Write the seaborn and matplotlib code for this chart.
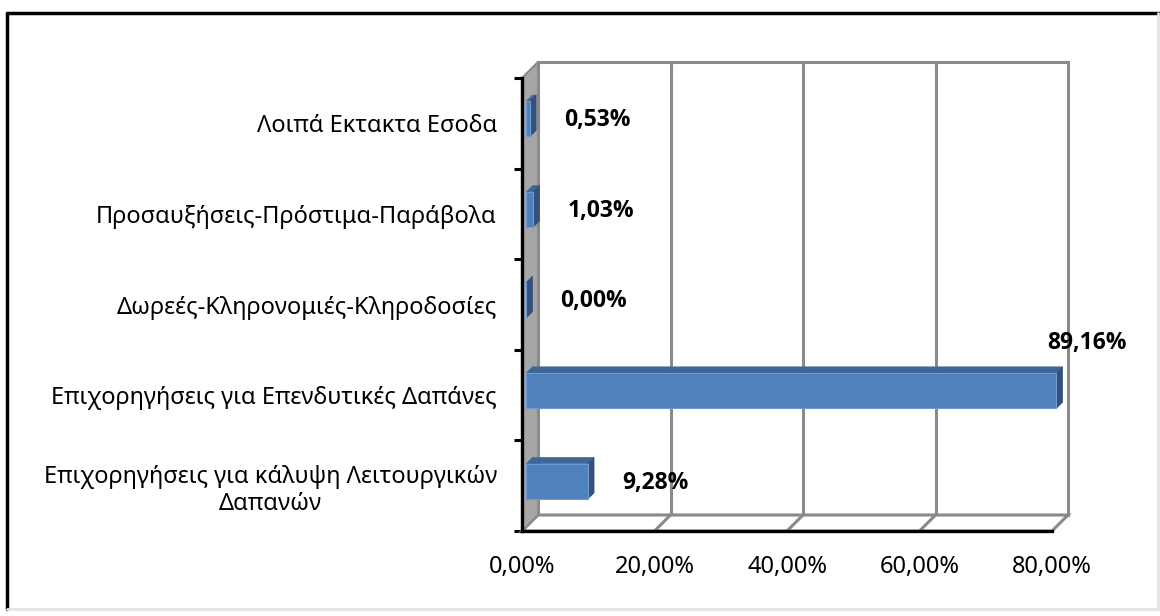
import numpy as np
import pandas as pd
import matplotlib
matplotlib.use("Agg")
import matplotlib.pyplot as plt
import seaborn as sns
from matplotlib.patches import Polygon
from matplotlib.lines import Line2D
from matplotlib.transforms import IdentityTransform, offset_copy

# Data (top to bottom as shown)
categories = [
    "Λοιπά Εκτακτα Εσοδα",
    "Προσαυξήσεις-Πρόστιμα-Παράβολα",
    "Δωρεές-Κληρονομιές-Κληροδοσίες",
    "Επιχορηγήσεις για Επενδυτικές Δαπάνες",
    "Επιχορηγήσεις για κάλυψη Λειτουργικών\nΔαπανών",
]
shares = [0.0053, 0.0103, 0.0000, 0.8916, 0.0928]
share_labels = ["0,53%", "1,03%", "0,00%", "89,16%", "9,28%"]
x_ticks = [0.0, 0.2, 0.4, 0.6, 0.8]
x_tick_labels = ["0,00%", "20,00%", "40,00%", "60,00%", "80,00%"]
x_max = 0.8

# Colours
bar_front = "#4F81BD"
bar_top = "#3E6797"
bar_side = "#2F5281"
wall_gray = "#A6A6A6"
grid_gray = "#8A8A8A"

sns.set_theme(style="white")
plt.rcParams['font.family'] = ['Noto Sans', 'DejaVu Sans']

W, H, DPI = 1160, 616, 100
fig = plt.figure(figsize=(W / DPI, H / DPI), dpi=DPI)
fig.patch.set_facecolor("white")

# front plane of the 3D box (pixel positions from the top-left)
left_px, right_px, top_px, bottom_px = 522, 1052, 78, 531
ax = fig.add_axes([left_px / W, (H - bottom_px) / H,
                   (right_px - left_px) / W, (bottom_px - top_px) / H])
ax.set_facecolor("none")

n = len(categories)
df = pd.DataFrame({"category": categories,
                   "share": np.minimum(shares, x_max)})

sns.barplot(data=df, x="share", y="category", orient="h", color=bar_front,
            saturation=1, width=0.39, ax=ax, zorder=6)

ax.set_xlim(0, x_max)
ax.set_ylim(n - 0.5, -0.5)

depth = np.array([16.0, 16.0])      # depth direction in display pixels
bar_f = 0.28 * depth                # bar front face
bar_b = 0.66 * depth                # bar back face


def to_px(x, y):
    return ax.transData.transform((x, y))


def poly(pts, **kw):
    p = Polygon(np.array(pts), closed=True, transform=IdentityTransform(),
                clip_on=False, **kw)
    ax.add_artist(p)
    return p


def seg(p0, p1, **kw):
    ax.add_artist(Line2D([p0[0], p1[0]], [p0[1], p1[1]],
                         transform=IdentityTransform(), clip_on=False, **kw))


fl_top = to_px(0, -0.5)
fl_bot = to_px(0, n - 0.5)
fr_top = to_px(x_max, -0.5)
fr_bot = to_px(x_max, n - 0.5)

# back wall
poly([fl_bot + depth, fr_bot + depth, fr_top + depth, fl_top + depth],
     facecolor="white", edgecolor=grid_gray, lw=2.2, zorder=0.5)
for t in x_ticks[1:-1]:
    seg(to_px(t, n - 0.5) + depth, to_px(t, -0.5) + depth,
        color=grid_gray, lw=2.2, zorder=0.6)

# floor
poly([fl_bot, fl_bot + depth, fr_bot + depth, fr_bot],
     facecolor="white", edgecolor=grid_gray, lw=2.2, zorder=0.7)
for t in x_ticks[1:-1]:
    seg(to_px(t, n - 0.5), to_px(t, n - 0.5) + depth,
        color=grid_gray, lw=2.2, zorder=0.8)

# side wall
poly([fl_top, fl_top + depth, fl_bot + depth, fl_bot],
     facecolor=wall_gray, edgecolor=grid_gray, lw=1.5, zorder=0.9)

# move seaborn bars back into the box and add top / side faces
shift = offset_copy(ax.transData, fig=fig, x=bar_f[0], y=bar_f[1], units="dots")
for patch in ax.patches:
    if not hasattr(patch, "get_width"):
        continue
    patch.set_transform(shift)
    patch.set_clip_on(False)
    patch.set_edgecolor("#6F9BD1")
    patch.set_linewidth(0.8)
    patch.set_zorder(6)
    x0, y0 = patch.get_x(), patch.get_y()
    x1, y1 = x0 + patch.get_width(), y0 + patch.get_height()
    a, b = to_px(x0, y0), to_px(x1, y1)
    top = max(a[1], b[1])
    bot = min(a[1], b[1])
    xl, xr = a[0], b[0]
    poly([(xl, top) + bar_f, (xr, top) + bar_f, (xr, top) + bar_b, (xl, top) + bar_b],
         facecolor=bar_top, edgecolor=bar_top, lw=0.5, zorder=5)
    poly([(xr, bot) + bar_f, (xr, top) + bar_f, (xr, top) + bar_b, (xr, bot) + bar_b],
         facecolor=bar_side, edgecolor=bar_side, lw=0.5, zorder=5)

# axes, ticks and labels
for s in ["top", "right"]:
    ax.spines[s].set_visible(False)
for s in ["left", "bottom"]:
    ax.spines[s].set_color("black")
    ax.spines[s].set_linewidth(2.4)
    ax.spines[s].set_zorder(8)

ax.set_xticks(x_ticks)
ax.set_xticklabels(x_tick_labels, fontsize=17, color="black")
ax.tick_params(axis="x", direction="out", length=6, width=2.2, color="black", pad=11)

ax.set_yticks(np.arange(-0.5, n, 1.0))
ax.set_yticklabels([])
ax.set_yticks(np.arange(n), minor=True)
ax.set_yticklabels(categories, minor=True, fontsize=17, color="black")
ax.tick_params(axis="y", which="major", direction="out", length=6, width=2.2,
               color="black", left=True)
ax.tick_params(axis="y", which="minor", length=0, pad=18)
for lab in ax.get_yticklabels(minor=True):
    lab.set_multialignment("center")
    lab.set_linespacing(1.2)
ax.set_xlabel("")
ax.set_ylabel("")
ax.grid(False)

# data labels (bold)
label_font = dict(family=["Open Sans", "DejaVu Sans"], fontsize=16.5,
                  fontweight="bold", color="black")
for i, (v, txt) in enumerate(zip(shares, share_labels)):
    if v > x_max:
        ax.annotate(txt, (x_max, i), textcoords="offset pixels", xytext=(35, 52),
                    ha="center", va="center", annotation_clip=False, zorder=9,
                    **label_font)
    else:
        ax.annotate(txt, (v, i), textcoords="offset pixels",
                    xytext=(bar_f[0] + 34, 3), ha="left", va="center",
                    annotation_clip=False, zorder=9, **label_font)

# chart border
def fline(x0, y0, x1, y1, **kw):
    fig.add_artist(Line2D([x0 / W, x1 / W], [1 - y0 / H, 1 - y1 / H],
                          transform=fig.transFigure, **kw))

fline(7, 13, 7, 609, color="black", lw=2.5)
fline(7, 13, 1160, 13, color="black", lw=2.5)
fline(7, 609, 1160, 609, color="#E3E3E3", lw=2)
fline(1158, 13, 1158, 609, color="#E3E3E3", lw=2)

fig.savefig("out.png", dpi=DPI, facecolor="white")
plt.close(fig)
